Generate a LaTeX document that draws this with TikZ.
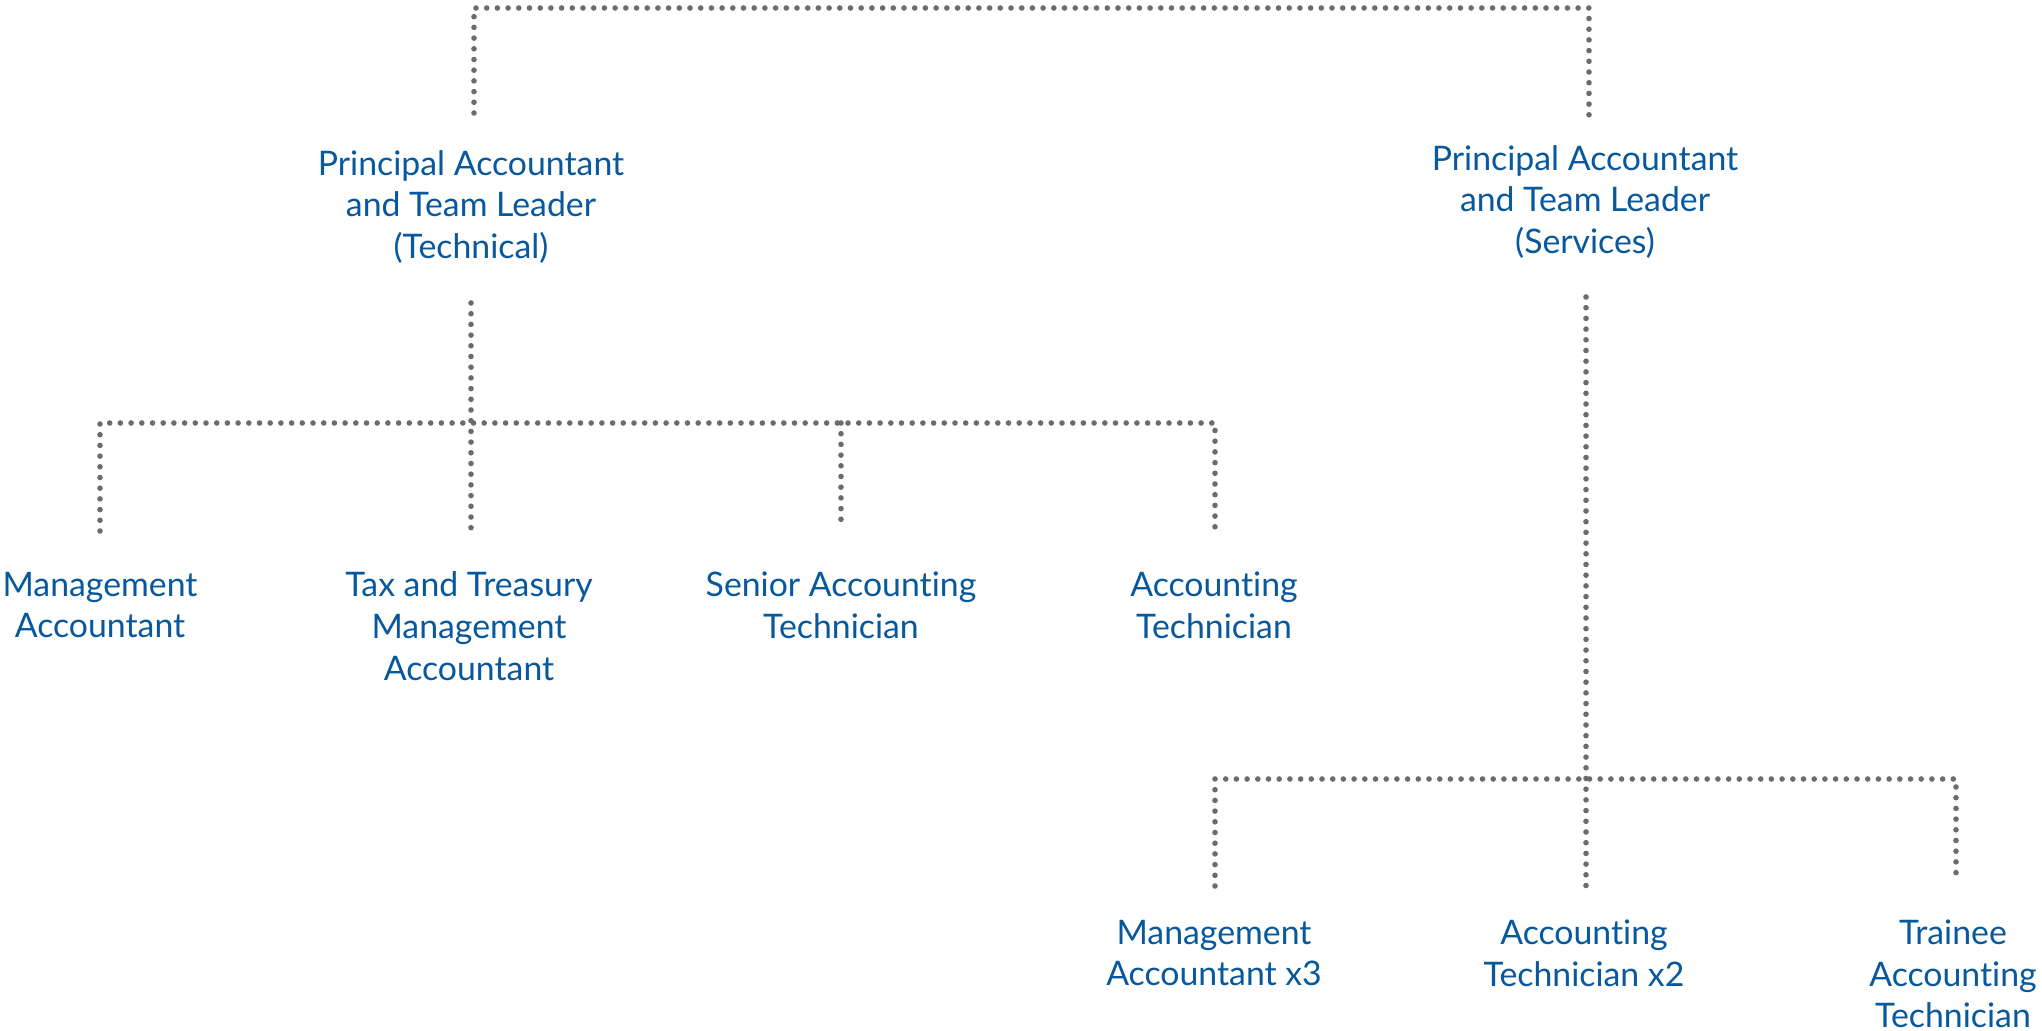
\documentclass[tikz,border=0pt]{standalone}
\usepackage{fontspec}
\setmainfont{Lato}[Ligatures={NoCommon,NoRare}]
\definecolor{txtblue}{RGB}{8,88,158}
\definecolor{dotgrey}{RGB}{108,108,108}
\tikzset{
  role/.style={text=txtblue, align=center, font=\fontsize{16.9}{20.9}\selectfont, inner sep=0pt},
  dotline/.style={draw=dotgrey, line width=2.8pt, line cap=round, dash pattern=on 0pt off 5.35pt},
}
\begin{document}
\begin{tikzpicture}[x=0.5pt,y=-0.5pt]
\useasboundingbox (0,0) rectangle (2042,1031);
% nodes
\node[role] (tech) at (471,207) {Principal Accountant\\and Team Leader\\(Technical)};
\node[role] (serv) at (1585,202) {Principal Accountant\\and Team Leader\\(Services)};
\node[role] (ma) at (100,605) {Management\\Accountant};
\node[role] (tax) at (469,626) {Tax and Treasury\\Management\\Accountant};
\node[role] (sat) at (841,605) {Senior Accounting\\Technician};
\node[role] (at) at (1214,605) {Accounting\\Technician};
\node[role] (ma3) at (1214,953) {Management\\Accountant x3};
\node[role] (at2) at (1584,953) {Accounting\\Technician x2};
\node[role] (tat) at (1953,974) {Trainee\\Accounting\\Technician};
% junction coordinates
\coordinate (topL) at (474,8);
\coordinate (topR) at (1589,8);
\coordinate (techUp) at (474,113);
\coordinate (servUp) at (1589,115);
\coordinate (techDn) at (471,303);
\coordinate (barL) at (100,423);
\coordinate (barR) at (1215,423);
\coordinate (maEnd) at (100,531);
\coordinate (taxEnd) at (471,533);
\coordinate (satEnd) at (841,529);
\coordinate (atEnd) at (1215,529);
\coordinate (servDn) at (1586,297);
\coordinate (bbarL) at (1215,779);
\coordinate (bbarR) at (1956,779);
\coordinate (ma3End) at (1215,886);
\coordinate (at2End) at (1586,889);
\coordinate (tatEnd) at (1956,883);
% connectors
\draw[dotline] (techUp) -- (topL) -- (topR) -- (servUp);
\draw[dotline] (techDn) -- (taxEnd);
\draw[dotline] (maEnd) -- (barL) -- (barR) -- (atEnd);
\draw[dotline] (barL -| satEnd) -- (satEnd);
\draw[dotline] (servDn) -- (at2End);
\draw[dotline] (ma3End) -- (bbarL) -- (bbarR) -- (tatEnd);
\end{tikzpicture}
\end{document}
